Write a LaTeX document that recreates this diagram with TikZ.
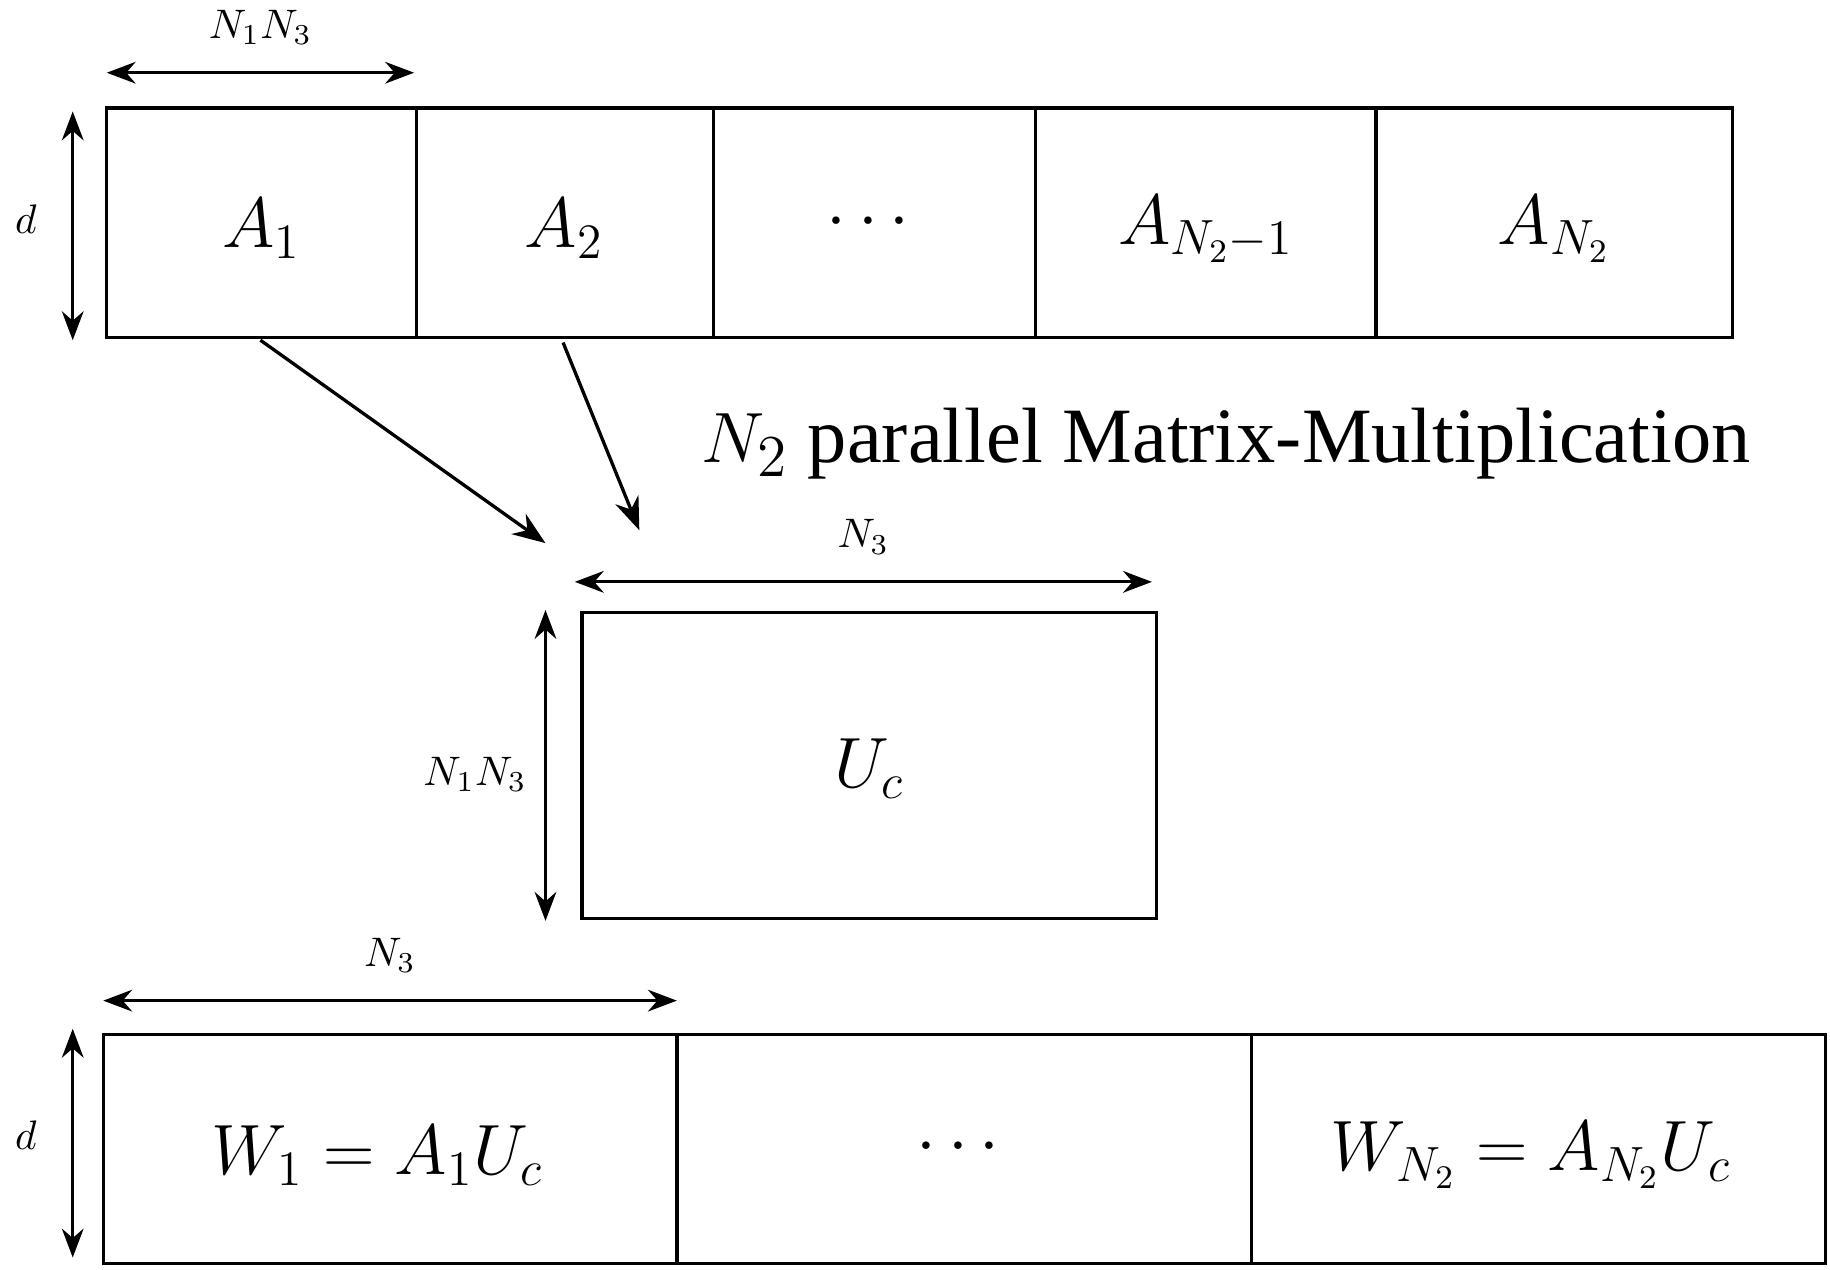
\documentclass[tikz,border=0pt]{standalone}
\usepackage{amsmath}
\usepackage{fontspec}
\setmainfont{Liberation Serif}
\usetikzlibrary{arrows.meta,positioning,calc}

\begin{document}
\begin{tikzpicture}[x=0.01cm,y=-0.01cm,
  box/.style={thick},
  big/.style={font=\fontsize{17}{20}\selectfont},
  dim/.style={thick, {Stealth[length=7pt]}-{Stealth[length=7pt]}},
  ptr/.style={thick, -{Stealth[length=8pt]}},
  lbl/.style={font=\fontsize{10}{12}\selectfont}]
  \useasboundingbox (0,0) rectangle (1560,1082);

  % Top row
  \draw[box] (91,92) rectangle (1477,288);
  \foreach \x in {355,608,883,1173} {
    \draw[box] (\x,92) -- (\x,288);
  }
  \node[big] (a1) at (223,195) {$A_1$};
  \node[big] (a2) at (481,195) {$A_2$};
  \node[big] (adots) at (745,190) {$\cdots$};
  \node[big] (am) at (1028,195) {$A_{N_2-1}$};
  \node[big] (an) at (1325,195) {$A_{N_2}$};

  \coordinate (t1) at (91,62);
  \coordinate (t2) at (353,62);
  \draw[dim] (t1) -- (t2) node[midway, above=3pt, lbl] {$N_1N_3$};
  \coordinate (d1) at (62,95);
  \coordinate (d2) at (62,290);
  \draw[dim] (d1) -- (d2);
  \node[lbl] (dtop) at (22,187) {$d$};

  % Matrix U_c
  \draw[box] (496,522) rectangle (986,783);
  \node[big] (uc) at (741,655) {$U_c$};
  \coordinate (u1) at (490,496);
  \coordinate (u2) at (982,496);
  \draw[dim] (u1) -- (u2) node[midway, above=3pt, lbl] {$N_3$};
  \coordinate (v1) at (465,520);
  \coordinate (v2) at (465,785);
  \draw[dim] (v1) -- (v2);
  \node[lbl] (ulbl) at (405,660) {$N_1N_3$};

  % Pointers
  \coordinate (s1) at (222,290);
  \coordinate (s2) at (480,292);
  \coordinate (p1) at (465,463);
  \coordinate (p2) at (545,452);
  \draw[ptr] (s1) -- (p1);
  \draw[ptr] (s2) -- (p2);
  \node[font=\fontsize{19}{22}\selectfont] (title) at (1045,378) {$N_2$ parallel Matrix-Multiplication};

  % Bottom row
  \draw[box] (88,882) rectangle (1556,1077);
  \foreach \x in {577,1067} {
    \draw[box] (\x,882) -- (\x,1077);
  }
  \node[big] (w1) at (322,985) {$W_1=A_1U_c$};
  \node[big] (wdots) at (822,978) {$\cdots$};
  \node[big] (wn) at (1305,985) {$W_{N_2}=A_{N_2}U_c$};

  \coordinate (b1) at (88,853);
  \coordinate (b2) at (577,853);
  \draw[dim] (b1) -- (b2) node[midway, above=3pt, lbl] {$N_3$};
  \coordinate (e1) at (62,877);
  \coordinate (e2) at (62,1072);
  \draw[dim] (e1) -- (e2);
  \node[lbl] (dbot) at (22,968) {$d$};
\end{tikzpicture}
\end{document}
